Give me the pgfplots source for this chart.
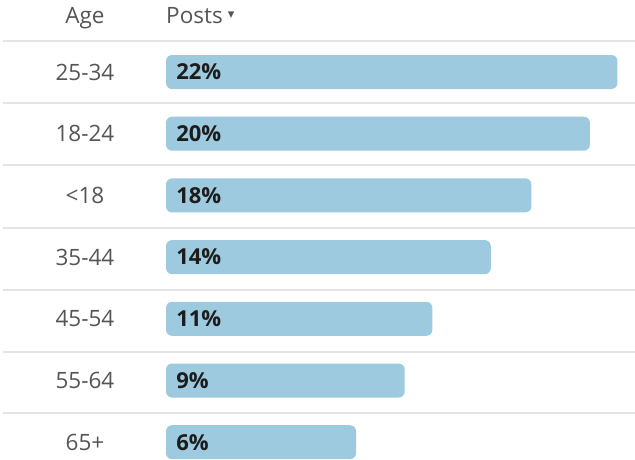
\documentclass[border=0pt]{standalone}
\usepackage{pgfplots}
\pgfplotsset{compat=1.18}
\usepackage{pgfplotstable}
\usepackage{fontspec}
\setmainfont{Open Sans}
\newfontfamily\dejavu{DejaVu Sans}
\definecolor{barblue}{RGB}{158,202,224}
\definecolor{agegray}{RGB}{85,85,85}
\definecolor{pcttext}{RGB}{28,28,28}
\definecolor{rulegray}{RGB}{228,228,228}

\pgfplotstableread{
y age pct len
72.0 25-34 22 27.8
133.7 18-24 20 26.1
195.4 <18 18 22.5
257.1 35-44 14 20.0
318.8 45-54 11 16.4
380.5 55-64 9 14.7
442.2 65+ 6 11.7
}\datatable

\begin{document}
\begin{tikzpicture}
\begin{axis}[
  scale only axis, width=635pt, height=459pt,
  xmin=-10.222, xmax=28.879, ymin=0, ymax=459, y dir=reverse,
  axis lines=none, clip=false,
]
\coordinate (BL) at (rel axis cs:0,0);
\coordinate (TR) at (rel axis cs:1,1);
\draw[rulegray, line width=2pt] (axis cs:-10.04,41) -- (axis cs:28.879,41);
\draw[rulegray, line width=2pt] (axis cs:-10.04,103) -- (axis cs:28.879,103);
\draw[rulegray, line width=2pt] (axis cs:-10.04,165) -- (axis cs:28.879,165);
\draw[rulegray, line width=2pt] (axis cs:-10.04,227.5) -- (axis cs:28.879,227.5);
\draw[rulegray, line width=2pt] (axis cs:-10.04,289.5) -- (axis cs:28.879,289.5);
\draw[rulegray, line width=2pt] (axis cs:-10.04,351.5) -- (axis cs:28.879,351.5);
\draw[rulegray, line width=2pt] (axis cs:-10.04,413) -- (axis cs:28.879,413);

\addplot[xbar, bar width=34, fill=barblue, draw=none, rounded corners=6pt, mark=none]
  table[x=len, y=y] {\datatable};

\addplot[draw=none, no markers, nodes near coords, point meta=explicit symbolic,
  nodes near coords style={anchor=center, font=\fontsize{22.5}{26}\selectfont, text=agegray, inner sep=0pt}]
  table[x expr=-4.99, y=y, meta=age] {\datatable};

\addplot[draw=none, no markers, nodes near coords={\pgfplotspointmeta\%}, point meta=explicit symbolic,
  nodes near coords style={anchor=west, font=\fontsize{22}{26}\selectfont\bfseries, text=pcttext, inner sep=0pt}]
  table[x expr=0.62, y=y, meta=pct] {\datatable};

\node[anchor=base, font=\fontsize{22.5}{26}\selectfont, text=agegray, inner sep=0pt] at (axis cs:-4.99,23) {Age};
\node[anchor=base west, font=\fontsize{22.5}{26}\selectfont, text=agegray, inner sep=0pt] at (axis cs:0,23) {Posts\hspace{5pt}\raisebox{5pt}{\dejavu\fontsize{13}{13}\selectfont ▾}};
\end{axis}
\pgfresetboundingbox
\useasboundingbox (BL) rectangle (TR);
\end{tikzpicture}
\end{document}
